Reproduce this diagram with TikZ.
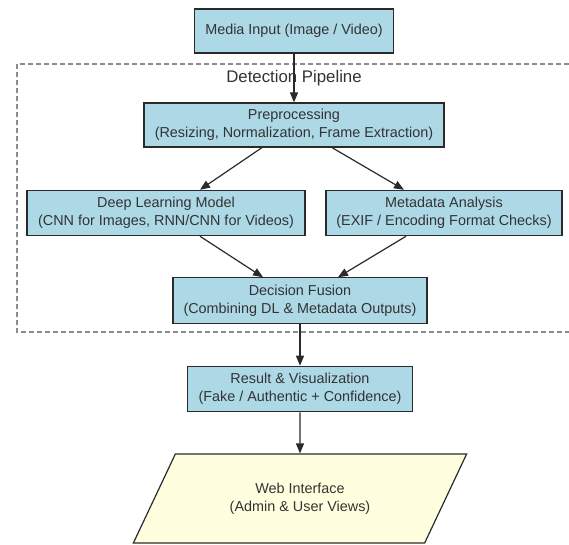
\documentclass[tikz,border=0pt]{standalone}
\usepackage{fontspec}
\setmainfont{Liberation Sans}
\usepackage{tikz}
\usetikzlibrary{positioning, arrows.meta}
\usetikzlibrary{shapes.geometric}

\definecolor{stageblue}{HTML}{ADD8E6}
\definecolor{webyellow}{HTML}{FFFFE0}
\definecolor{edgegray}{HTML}{2A2A2A}

\begin{document}
\begin{tikzpicture}[x=0.75pt, y=-0.75pt,
  stage/.style={draw=edgegray, fill=stageblue, line width=0.9pt, align=center, inner sep=0pt,
    text=black!80, font=\fontsize{10.8}{13.5}\selectfont, minimum height=34pt},
  flow/.style={draw=edgegray, line width=0.9pt, -{Triangle[length=7.5pt, width=6pt]}}]
  \useasboundingbox (0,0) rectangle (569,544);
  \clip (0,0) rectangle (569,544);
  \draw[black!45, line width=0.8pt, dash pattern=on 3.5pt off 2.5pt] (17,64) rectangle (585,332);
  \node[text=black!80, font=\fontsize{12.6}{15}\selectfont] (pipeline) at (294,78) {Detection Pipeline};
  \node[stage, minimum width=149pt, minimum height=33pt] (media) at (294,31) {Media Input (Image / Video)};
  \node[stage, minimum width=225pt, minimum height=33pt] (pre) at (294,125) {Preprocessing\\(Resizing, Normalization, Frame Extraction)};
  \node[stage, minimum width=208.5pt] (dl) at (166,213) {Deep Learning Model\\(CNN for Images, RNN/CNN for Videos)};
  \node[stage, minimum width=177pt] (meta) at (444,213) {Metadata Analysis\\(EXIF / Encoding Format Checks)};
  \node[stage, minimum width=190.5pt] (fusion) at (300,300.5) {Decision Fusion\\(Combining DL \& Metadata Outputs)};
  \node[stage, minimum width=169pt] (result) at (300,389) {Result \& Visualization\\(Fake / Authentic + Confidence)};
  \node[trapezium, trapezium left angle=53, trapezium right angle=127, trapezium stretches=true,
    draw=edgegray, fill=webyellow, line width=0.9pt, align=center, inner sep=0pt,
    text=black!80, font=\fontsize{10.8}{13.5}\selectfont,
    minimum width=250.5pt, minimum height=66.75pt] (web) at (300,498.5) {Web Interface\\(Admin \& User Views)};
  \draw[flow] (media) -- (pre);
  \draw[flow] ([xshift=-24pt]pre.south) -- ([xshift=25.5pt]dl.north);
  \draw[flow] ([xshift=28.5pt]pre.south) -- ([xshift=-30pt]meta.north);
  \draw[flow] ([xshift=25.5pt]dl.south) -- ([xshift=-27.75pt]fusion.north);
  \draw[flow] ([xshift=-28.5pt]meta.south) -- ([xshift=28.5pt]fusion.north);
  \draw[flow] (fusion) -- (result);
  \draw[flow] (result) -- (web);
\end{tikzpicture}
\end{document}
